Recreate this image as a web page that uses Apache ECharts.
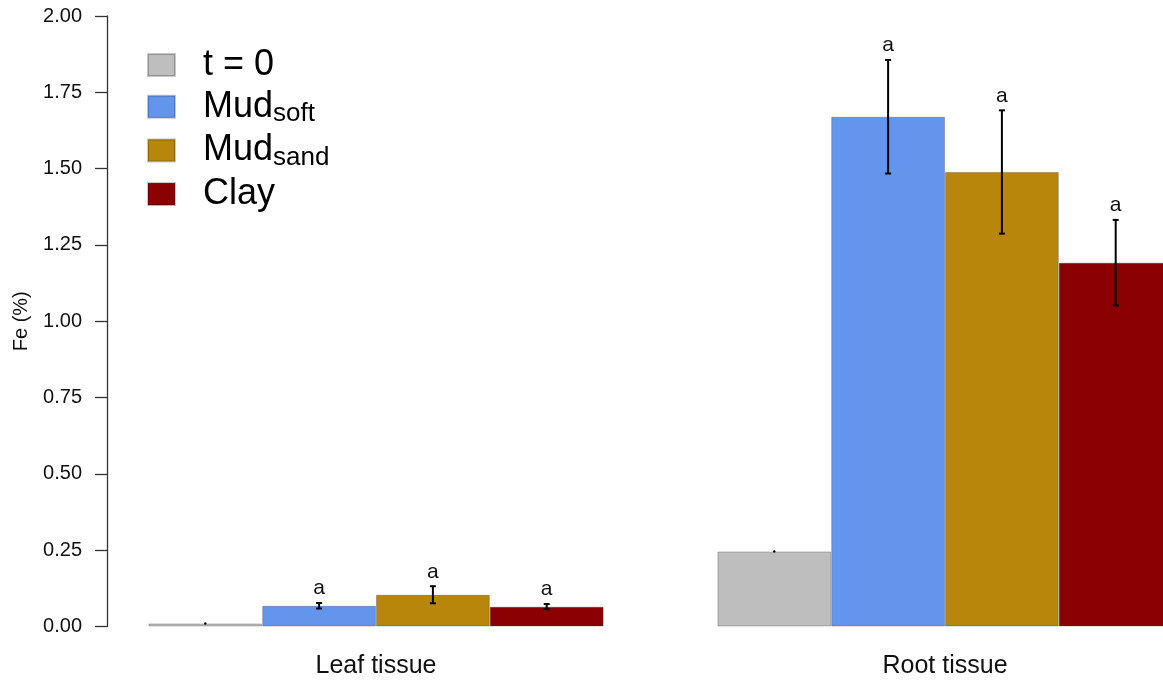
<!DOCTYPE html>
<html>
<head>
<meta charset="utf-8">
<script src="https://cdn.jsdelivr.net/npm/echarts@6/dist/echarts.min.js"></script>
<style>html,body{margin:0;padding:0;background:#fff;}#c{width:1163px;height:680px;}</style>
</head>
<body>
<div id="c"></div>
<script>
// ---- data ----
var categories = ['Leaf tissue', 'Root tissue'];
var seriesNames = ['t = 0', 'Mud_soft', 'Mud_sand', 'Clay'];
var t0 = [0.010, 0.246];
var mudSoft = [0.068, 1.670];
var mudSand = [0.104, 1.489];
var clay = [0.065, 1.192];
var t0Err = [0.002, 0.002];
var mudSoftErr = [0.009, 0.186];
var mudSandErr = [0.028, 0.202];
var clayErr = [0.0085, 0.140];
var t0Sig = ['', ''];
var mudSoftSig = ['a', 'a'];
var mudSandSig = ['a', 'a'];
var claySig = ['a', 'a'];
var yTicks = [0, 0.25, 0.5, 0.75, 1.0, 1.25, 1.5, 1.75, 2.0];

var colors = ['#BEBEBE', '#6495ED', '#B8860B', '#8B0000'];
var values = [t0, mudSoft, mudSand, clay];
var errs = [t0Err, mudSoftErr, mudSandErr, clayErr];
var sigs = [t0Sig, mudSoftSig, mudSandSig, claySig];
var FONT = '"Liberation Sans", Arial, sans-serif';
var BAR_RATIO = 0.2;

var chart = echarts.init(document.getElementById('c'), null, {renderer: 'canvas'});

var series = [];
seriesNames.forEach(function (name, i) {
  series.push({
    name: name,
    type: 'bar',
    data: values[i],
    barWidth: (BAR_RATIO * 100) + '%',
    barGap: '0%',
    itemStyle: {color: colors[i], borderColor: 'rgba(0,0,0,0.22)', borderWidth: 1},
    emphasis: {disabled: true},
    z: 2
  });
});
seriesNames.forEach(function (name, i) {
  var data = values[i].map(function (v, k) { return [k, v, errs[i][k], sigs[i][k]]; });
  series.push({
    type: 'custom',
    name: name + '_err',
    data: data,
    z: 5,
    silent: true,
    clip: false,
    renderItem: function (params, api) {
      var k = api.value(0), v = api.value(1), e = api.value(2);
      var sig = data[params.dataIndex][3];
      var band = api.size([1, 0])[0];
      var cx = api.coord([k, v])[0] + (i - 1.5) * band * BAR_RATIO;
      var yTop = api.coord([k, v + e])[1];
      var yBot = api.coord([k, v - e])[1];
      var children = [];
      var lw = 2;
      if (yBot - yTop < 3) {
        children.push({type: 'circle', shape: {cx: cx, cy: (yTop + yBot) / 2, r: 1.2}, style: {fill: '#000'}});
      } else {
        children.push({type: 'line', shape: {x1: cx, y1: yTop, x2: cx, y2: yBot}, style: {stroke: '#000', lineWidth: lw}});
        children.push({type: 'line', shape: {x1: cx - 3, y1: yTop, x2: cx + 3, y2: yTop}, style: {stroke: '#000', lineWidth: lw}});
        children.push({type: 'line', shape: {x1: cx - 3, y1: yBot, x2: cx + 3, y2: yBot}, style: {stroke: '#000', lineWidth: lw}});
      }
      if (sig) {
        children.push({type: 'text', style: {text: sig, x: cx, y: yTop - 4, align: 'center', verticalAlign: 'bottom',
          font: '21px ' + FONT, fill: '#111'}});
      }
      return {type: 'group', children: children};
    }
  });
});

function legendFmt(name) {
  var parts = name.split('_');
  if (parts.length === 2) return '{g|}{m|' + parts[0] + '}{s|' + parts[1] + '}';
  return '{g|}{m|' + name + '}';
}

chart.setOption({
  animation: false,
  backgroundColor: '#fff',
  grid: {left: 91.5, top: 16, right: -66.5, bottom: 53.5, containLabel: false, outerBoundsMode: 'none'},
  legend: {
    data: seriesNames,
    orient: 'vertical',
    left: 142,
    top: 42,
    itemWidth: 27,
    itemHeight: 22,
    itemGap: 5.7,
    icon: 'rect',
    selectedMode: false,
    formatter: legendFmt,
    textStyle: {
      color: '#000',
      fontFamily: FONT,
      rich: {
        g: {width: 23},
        m: {fontSize: 36, lineHeight: 40, fontFamily: FONT, color: '#000'},
        s: {fontSize: 26, lineHeight: 18, verticalAlign: 'bottom', fontFamily: FONT, color: '#000'}
      }
    }
  },
  xAxis: {
    type: 'category',
    data: categories,
    axisLine: {show: false},
    axisTick: {show: false},
    axisLabel: {fontSize: 25, fontFamily: FONT, color: '#111', margin: 27}
  },
  yAxis: {
    type: 'value',
    min: 0,
    max: 2,
    interval: 0.25,
    offset: -15.5,
    name: 'Fe (%)',
    nameLocation: 'middle',
    nameGap: 76,
    nameTextStyle: {fontSize: 20, fontFamily: FONT, color: '#111'},
    splitLine: {show: false},
    axisLine: {show: true, lineStyle: {color: '#333', width: 1.3}},
    axisTick: {show: true, length: 12, lineStyle: {color: '#333', width: 1.3}},
    axisLabel: {
      fontSize: 20, fontFamily: FONT, color: '#111', margin: 25,
      formatter: function (v) { return v.toFixed(2); },
      customValues: yTicks
    }
  },
  series: series
});
</script>
</body>
</html>
